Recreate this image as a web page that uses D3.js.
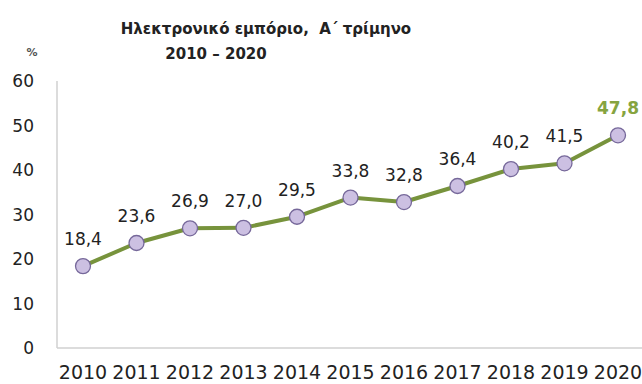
<!DOCTYPE html>
<html>
<head>
<meta charset="utf-8">
<script src="https://cdn.jsdelivr.net/npm/d3@7"></script>
<style>
  html, body { margin: 0; padding: 0; background: #fff; }
  svg { display: block; }
  text { font-family: "DejaVu Sans", sans-serif; }
</style>
</head>
<body>
<svg id="chart" width="642" height="384"></svg>
<script>
// E-commerce share, first quarter, 2010–2020 (%)
const years = ["2010","2011","2012","2013","2014","2015","2016","2017","2018","2019","2020"];
const values = [18.4, 23.6, 26.9, 27.0, 29.5, 33.8, 32.8, 36.4, 40.2, 41.5, 47.8];
const yTicks = [0, 10, 20, 30, 40, 50, 60];
const titleLines = ["Ηλεκτρονικό εμπόριο,  Α΄ τρίμηνο", "2010 – 2020"];

const svg = d3.select("#chart");
const fmt = v => v.toFixed(1).replace(".", ",");

const x = d3.scalePoint().domain(years).range([83, 618]);
const y = d3.scaleLinear().domain([0, 60]).range([348, 81]);

// title
svg.append("text").attr("x", 266).attr("y", 34).attr("text-anchor", "middle")
  .attr("font-size", 15).attr("font-weight", "bold").attr("fill", "#222")
  .attr("xml:space", "preserve")
  .text(titleLines[0]);
svg.append("text").attr("x", 216).attr("y", 59).attr("text-anchor", "middle")
  .attr("font-size", 15).attr("font-weight", "bold").attr("fill", "#222")
  .text(titleLines[1]);
svg.append("text").attr("x", 32).attr("y", 56).attr("text-anchor", "middle")
  .attr("font-size", 11).attr("font-weight", "bold").attr("fill", "#555")
  .text("%");

// axis lines
svg.append("line").attr("x1", 57).attr("x2", 57).attr("y1", y(60)).attr("y2", y(0))
  .attr("stroke", "#d0d0d0").attr("stroke-width", 1.5);
svg.append("line").attr("x1", 57).attr("x2", 642).attr("y1", y(0)).attr("y2", y(0))
  .attr("stroke", "#d0d0d0").attr("stroke-width", 1.5);

// y tick labels
svg.append("g").selectAll("text").data(yTicks).join("text")
  .attr("x", 34).attr("y", d => y(d)).attr("dy", "0.36em")
  .attr("text-anchor", "end").attr("font-size", 17).attr("fill", "#222")
  .text(d => d);

// x labels
svg.append("g").selectAll("text").data(years).join("text")
  .attr("x", d => x(d)).attr("y", 379)
  .attr("text-anchor", "middle").attr("font-size", 19).attr("fill", "#222")
  .text(d => d);

const pts = years.map((yr, i) => ({ yr, v: values[i] }));

// line
svg.append("path").datum(pts)
  .attr("fill", "none").attr("stroke", "#77933c").attr("stroke-width", 4)
  .attr("stroke-linejoin", "round")
  .attr("d", d3.line().x(d => x(d.yr)).y(d => y(d.v)));

// markers
svg.append("g").selectAll("circle").data(pts).join("circle")
  .attr("cx", d => x(d.yr)).attr("cy", d => y(d.v)).attr("r", 7.5)
  .attr("fill", "#ccc0e2").attr("stroke", "#76689a").attr("stroke-width", 1.3);

// value labels
svg.append("g").selectAll("text").data(pts).join("text")
  .attr("x", d => x(d.yr)).attr("y", d => y(d.v) - 21)
  .attr("text-anchor", "middle").attr("font-size", 17)
  .attr("font-weight", (d, i) => i === pts.length - 1 ? "bold" : "normal")
  .attr("fill", (d, i) => i === pts.length - 1 ? "#86a440" : "#222")
  .text(d => fmt(d.v));
</script>
</body>
</html>
